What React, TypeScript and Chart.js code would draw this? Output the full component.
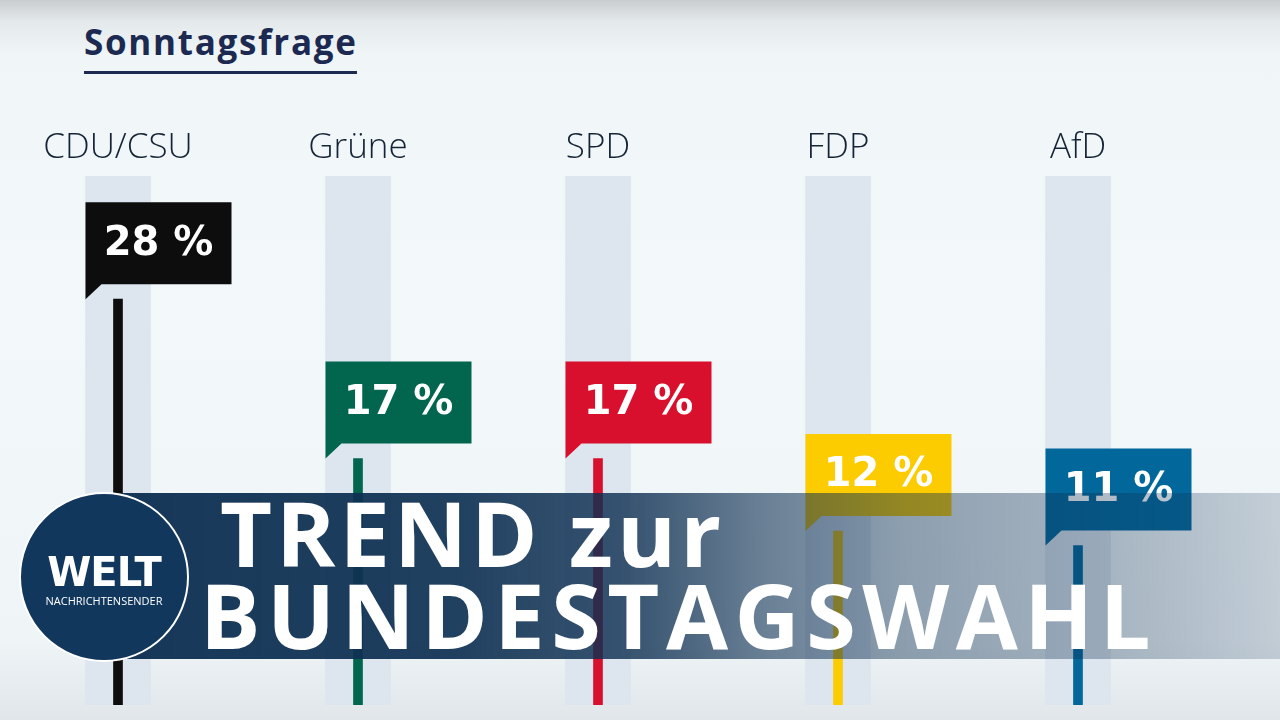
import React, { useEffect, useRef } from "react";
import { Chart, registerables } from "chart.js";

Chart.register(...registerables);

// ---- data ----
const parties = ["CDU/CSU", "Grüne", "SPD", "FDP", "AfD", "Linke"];
const shares = [28, 17, 17, 12, 11, 7];
const trackHeights = [36.5, 36.5, 36.5, 36.5, 36.5, 36.5];
const partyColors = ["#0d0d0d", "#02664f", "#d8102d", "#fccb00", "#02679b", "#b8336a"];
const axisMin = 0;
const axisMax = 36.5;
const chartTitle = "Sonntagsfrage";
const bannerLines = ["TREND zur", "BUNDESTAGSWAHL"];

const flagPlugin = {
  id: "flags",
  afterDatasetsDraw(chart: any) {
    const ctx = chart.ctx as CanvasRenderingContext2D;
    const tracks = chart.getDatasetMeta(0).data;
    const lines = chart.getDatasetMeta(1).data;
    ctx.save();
    lines.forEach((bar: any, i: number) => {
      const track = tracks[i];
      const left = track.x - track.width / 2;
      const right = left + 146;
      const tip = bar.y;
      const bottom = tip - 15;
      const top = bottom - 82;
      ctx.fillStyle = partyColors[i];
      ctx.beginPath();
      ctx.moveTo(left, top);
      ctx.lineTo(right, top);
      ctx.lineTo(right, bottom);
      ctx.lineTo(left + 16, bottom);
      ctx.lineTo(left, tip);
      ctx.closePath();
      ctx.fill();
      ctx.fillStyle = "#ffffff";
      ctx.font = "bold 40px 'DejaVu Sans'";
      ctx.textAlign = "center";
      ctx.textBaseline = "middle";
      ctx.fillText(`${shares[i]} %`, (left + right) / 2, (top + bottom) / 2 + 1);
    });
    ctx.restore();
  },
};

export default function App() {
  const canvasRef = useRef<HTMLCanvasElement | null>(null);

  useEffect(() => {
    if (!canvasRef.current) return;
    const chart = new Chart(canvasRef.current, {
      type: "bar",
      data: {
        labels: parties,
        datasets: [
          {
            data: trackHeights,
            backgroundColor: "#dde5ee",
            barThickness: 65,
            grouped: false,
            order: 2,
          },
          {
            data: shares,
            backgroundColor: partyColors,
            barThickness: 9,
            grouped: false,
            order: 1,
          },
        ],
      },
      options: {
        animation: false,
        responsive: false,
        maintainAspectRatio: false,
        devicePixelRatio: 1,
        layout: { padding: { top: 120, bottom: 15, left: 0, right: 0 } },
        plugins: {
          legend: { display: false },
          tooltip: { enabled: false },
        },
        scales: {
          x: {
            position: "top",
            offset: true,
            grid: { display: false, drawTicks: false },
            border: { display: false },
            ticks: {
              padding: 7,
              color: "#142436",
              font: { family: "'Open Sans'", size: 35, weight: "300" },
            },
          },
          y: { display: false, min: axisMin, max: axisMax },
        },
      },
      plugins: [flagPlugin],
    });
    return () => chart.destroy();
  }, []);

  return (
    <div
      style={{
        position: "fixed",
        left: 0,
        top: 0,
        width: 1280,
        height: 720,
        overflow: "hidden",
        background:
          "linear-gradient(to bottom, #c9cdd0 0px, #e4e9ec 22px, #f0f5f8 55px, #f3f8fb 300px, #eff4f7 640px, #e1e6ea 720px)",
      }}
    >
      <div
        style={{
          position: "absolute",
          left: 84,
          top: 18,
          fontFamily: "'Open Sans', sans-serif",
          fontWeight: 700,
          fontSize: 35,
          lineHeight: "48px",
          letterSpacing: 1.7,
          color: "#1c2a52",
          whiteSpace: "nowrap",
        }}
      >
        {chartTitle}
      </div>
      <div style={{ position: "absolute", left: 84, top: 71, width: 273, height: 3, background: "#1c2a52" }} />

      <canvas
        ref={canvasRef}
        width={1440}
        height={720}
        style={{ position: "absolute", left: -2.5, top: 0, width: 1440, height: 720 }}
      />

      <div
        style={{
          position: "absolute",
          left: 100,
          top: 493,
          width: 1180,
          height: 166,
          background:
            "linear-gradient(to right, rgba(14,48,82,0.97) 0%, rgba(14,48,82,0.92) 30%, rgba(14,48,82,0.8) 46%, rgba(14,48,82,0.6) 56%, rgba(14,48,82,0.44) 68%, rgba(14,48,82,0.33) 85%, rgba(14,48,82,0.2) 100%)",
        }}
      />
      <div
        style={{
          position: "absolute",
          left: 220,
          top: 487,
          fontFamily: "'Open Sans', sans-serif",
          fontWeight: 700,
          fontSize: 90,
          lineHeight: "90px",
          letterSpacing: 4,
          color: "#ffffff",
          whiteSpace: "nowrap",
        }}
      >
        {bannerLines[0]}
      </div>
      <div
        style={{
          position: "absolute",
          left: 200,
          top: 569,
          fontFamily: "'Open Sans', sans-serif",
          fontWeight: 700,
          fontSize: 90,
          lineHeight: "90px",
          letterSpacing: 6.5,
          color: "#ffffff",
          whiteSpace: "nowrap",
        }}
      >
        {bannerLines[1]}
      </div>

      <div
        style={{
          position: "absolute",
          left: 19,
          top: 492,
          width: 166,
          height: 166,
          borderRadius: "50%",
          background: "#12375c",
          border: "2px solid #ffffff",
          boxSizing: "content-box",
        }}
      >
        <div
          style={{
            position: "absolute",
            left: 0,
            width: 166,
            top: 58,
            textAlign: "center",
            fontFamily: "'DejaVu Sans', sans-serif",
            fontWeight: 700,
            fontSize: 40,
            lineHeight: "40px",
            color: "#ffffff",
            letterSpacing: -1,
          }}
        >
          WELT
        </div>
        <div
          style={{
            position: "absolute",
            left: 0,
            width: 166,
            top: 101,
            textAlign: "center",
            fontFamily: "'Open Sans', sans-serif",
            fontSize: 11,
            lineHeight: "12px",
            color: "#ffffff",
          }}
        >
          NACHRICHTENSENDER
        </div>
      </div>
    </div>
  );
}
